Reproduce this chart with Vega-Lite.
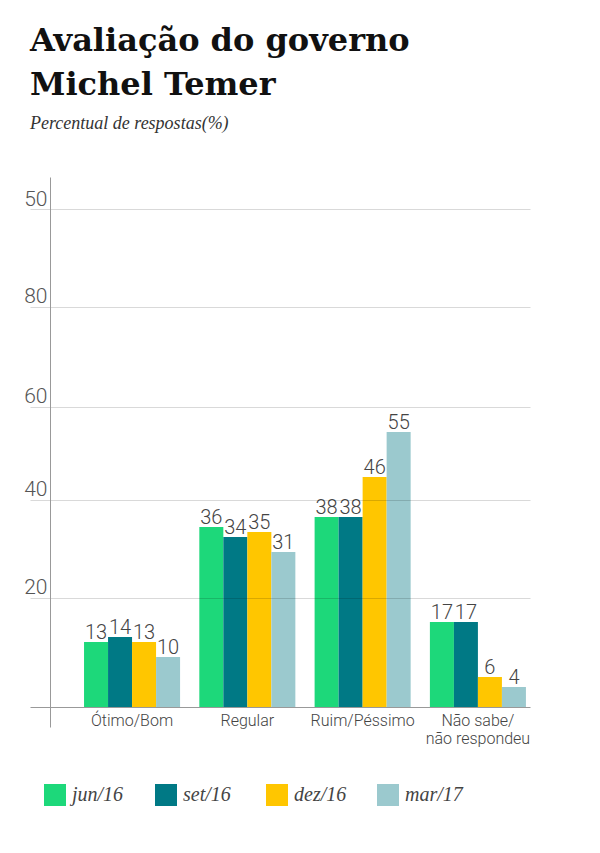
{
  "$schema": "https://vega.github.io/schema/vega-lite/v6.json",
  "autosize": {"type": "none"},
  "padding": {"left": 30, "top": 177, "right": 70, "bottom": 126},
  "width": 500,
  "height": 550,
  "background": "#ffffff",
  "config": {"view": {"stroke": null}},
  "title": {
    "text": ["Avaliação do governo", "Michel Temer"],
    "subtitle": "Percentual de respostas(%)",
    "anchor": "start",
    "frame": "group",
    "font": "DejaVu Serif",
    "fontSize": 32,
    "fontWeight": "bold",
    "lineHeight": 44,
    "color": "#111111",
    "subtitleFont": "Liberation Serif",
    "subtitleFontStyle": "italic",
    "subtitleFontSize": 18,
    "subtitleColor": "#333333",
    "subtitlePadding": 13,
    "offset": 43
  },
  "data": {
    "values": [
      {"categoria": "Ótimo/Bom", "periodo": "jun/16", "valor": 13},
      {"categoria": "Ótimo/Bom", "periodo": "set/16", "valor": 14},
      {"categoria": "Ótimo/Bom", "periodo": "dez/16", "valor": 13},
      {"categoria": "Ótimo/Bom", "periodo": "mar/17", "valor": 10},
      {"categoria": "Regular", "periodo": "jun/16", "valor": 36},
      {"categoria": "Regular", "periodo": "set/16", "valor": 34},
      {"categoria": "Regular", "periodo": "dez/16", "valor": 35},
      {"categoria": "Regular", "periodo": "mar/17", "valor": 31},
      {"categoria": "Ruim/Péssimo", "periodo": "jun/16", "valor": 38},
      {"categoria": "Ruim/Péssimo", "periodo": "set/16", "valor": 38},
      {"categoria": "Ruim/Péssimo", "periodo": "dez/16", "valor": 46},
      {"categoria": "Ruim/Péssimo", "periodo": "mar/17", "valor": 55},
      {"categoria": "Não sabe/não respondeu", "periodo": "jun/16", "valor": 17},
      {"categoria": "Não sabe/não respondeu", "periodo": "set/16", "valor": 17},
      {"categoria": "Não sabe/não respondeu", "periodo": "dez/16", "valor": 6},
      {"categoria": "Não sabe/não respondeu", "periodo": "mar/17", "valor": 4}
    ]
  },
  "encoding": {
    "x": {
      "field": "categoria",
      "type": "nominal",
      "sort": ["Ótimo/Bom", "Regular", "Ruim/Péssimo", "Não sabe/não respondeu"],
      "scale": {"paddingInner": 0.167, "paddingOuter": 0.252, "align": 0.93},
      "axis": {
        "title": null,
        "orient": "bottom",
        "offset": -20,
        "domainColor": "#999999",
        "domainWidth": 1,
        "ticks": false,
        "grid": false,
        "labelAngle": 0,
        "labelFont": "Roboto",
        "labelFontWeight": 300,
        "labelFontSize": 16,
        "labelColor": "#444444",
        "labelPadding": 5,
        "labelLineHeight": 18,
        "labelExpr": "datum.label == 'Não sabe/não respondeu' ? ['Não sabe/', 'não respondeu'] : datum.label",
        "zindex": 1
      }
    },
    "xOffset": {
      "field": "periodo",
      "type": "nominal",
      "sort": ["jun/16", "set/16", "dez/16", "mar/17"],
      "scale": {"paddingInner": 0, "paddingOuter": 0}
    },
    "y": {
      "field": "valor",
      "type": "quantitative",
      "scale": {"domain": [-4, 106], "nice": false, "zero": false},
      "axis": {
        "title": null,
        "offset": -20,
        "values": [21.9, 41.5, 60.1, 80.1, 99.5],
        "labelExpr": "datum.value > 90 ? '50' : '' + round(datum.value / 20) * 20",
        "domainColor": "#999999",
        "domainWidth": 1,
        "ticks": false,
        "grid": true,
        "gridColor": "#000000",
        "gridOpacity": 0.15,
        "gridWidth": 1,
        "labelFont": "Roboto",
        "labelFontWeight": 300,
        "labelFontSize": 21,
        "labelColor": "#555555",
        "labelBaseline": "alphabetic",
        "labelOffset": -4,
        "labelPadding": 3,
        "zindex": 1
      }
    }
  },
  "layer": [
    {
      "mark": {"type": "bar"},
      "encoding": {
        "y2": {"datum": 0},
        "color": {
          "field": "periodo",
          "type": "nominal",
          "scale": {
            "domain": ["jun/16", "set/16", "dez/16", "mar/17"],
            "range": ["#1dd87a", "#007985", "#ffc600", "#9bc9ce"]
          },
          "legend": {
            "title": null,
            "orient": "none",
            "legendX": 14,
            "legendY": 607,
            "direction": "horizontal",
            "symbolType": "square",
            "symbolSize": 484,
            "symbolStrokeWidth": 0,
            "symbolOpacity": 1,
            "labelFont": "Liberation Serif",
            "labelFontStyle": "italic",
            "labelFontSize": 20,
            "labelColor": "#444444",
            "labelOffset": 6,
            "gridAlign": "all",
            "columnPadding": 25
          }
        }
      }
    },
    {
      "mark": {
        "type": "text",
        "font": "Roboto",
        "fontWeight": 300,
        "fontSize": 20,
        "color": "#444444",
        "baseline": "alphabetic",
        "align": "center",
        "dy": -3
      },
      "encoding": {
        "text": {"field": "valor", "type": "quantitative"}
      }
    }
  ]
}
